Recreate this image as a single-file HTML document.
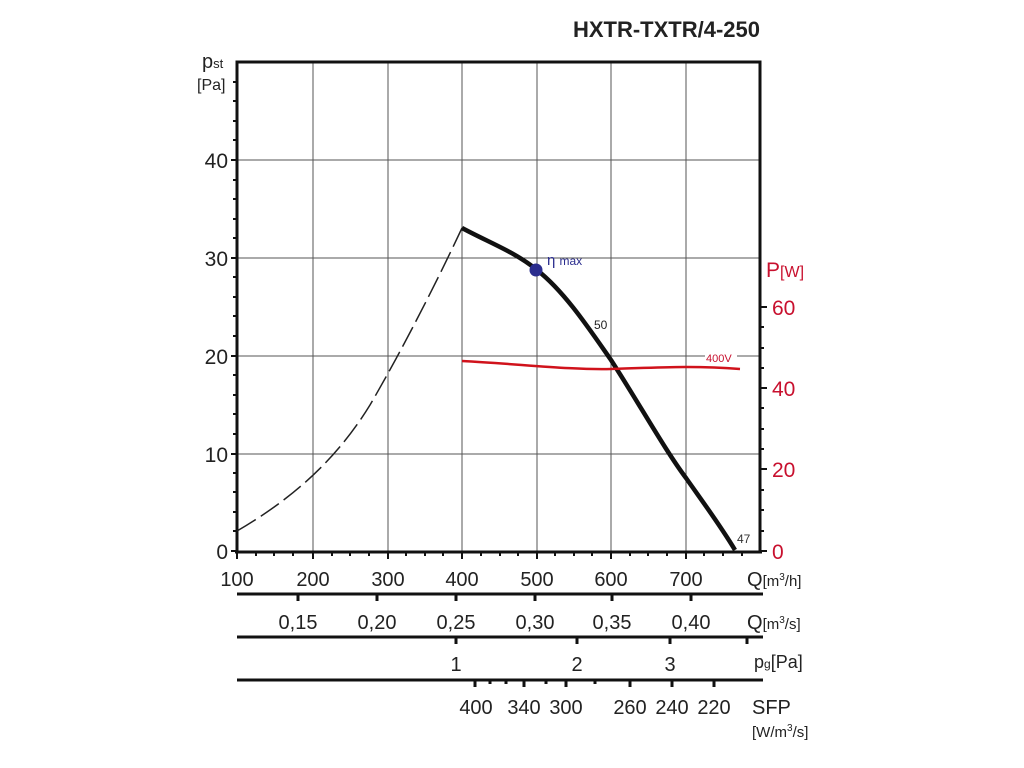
<!DOCTYPE html>
<html><head><meta charset="utf-8"><style>body{margin:0;background:#fff}svg{display:block}</style></head>
<body>
<svg width="1024" height="768" viewBox="0 0 1024 768" xmlns="http://www.w3.org/2000/svg" font-family="Liberation Sans, sans-serif">
<text x="760" y="37" text-anchor="end" font-size="22" font-weight="bold" fill="#222">HXTR-TXTR/4-250</text>
<!-- grid -->
<g stroke="#555" stroke-width="1">
<line x1="313" y1="62" x2="313" y2="551"/><line x1="388" y1="62" x2="388" y2="551"/>
<line x1="462" y1="62" x2="462" y2="551"/><line x1="537" y1="62" x2="537" y2="551"/>
<line x1="611" y1="62" x2="611" y2="551"/><line x1="686" y1="62" x2="686" y2="551"/>
<line x1="237" y1="160" x2="760" y2="160"/><line x1="237" y1="258" x2="760" y2="258"/>
<line x1="237" y1="356" x2="760" y2="356"/><line x1="237" y1="454" x2="760" y2="454"/>
</g>
<!-- frame -->
<g stroke="#111" stroke-width="3" fill="none">
<polyline points="237,551 237,62 760,62 760,552"/>
<line x1="235" y1="552" x2="762" y2="552"/>
</g>
<!-- left ticks -->
<g stroke="#111" stroke-width="2">
<line x1="231" y1="551" x2="237" y2="551"/><line x1="233" y1="531" x2="237" y2="531"/><line x1="233" y1="512" x2="237" y2="512"/><line x1="233" y1="492" x2="237" y2="492"/><line x1="233" y1="473" x2="237" y2="473"/>
<line x1="231" y1="454" x2="237" y2="454"/><line x1="233" y1="434" x2="237" y2="434"/><line x1="233" y1="414" x2="237" y2="414"/><line x1="233" y1="395" x2="237" y2="395"/><line x1="233" y1="375" x2="237" y2="375"/>
<line x1="231" y1="356" x2="237" y2="356"/><line x1="233" y1="336" x2="237" y2="336"/><line x1="233" y1="316" x2="237" y2="316"/><line x1="233" y1="297" x2="237" y2="297"/><line x1="233" y1="277" x2="237" y2="277"/>
<line x1="231" y1="258" x2="237" y2="258"/><line x1="233" y1="238" x2="237" y2="238"/><line x1="233" y1="219" x2="237" y2="219"/><line x1="233" y1="199" x2="237" y2="199"/><line x1="233" y1="180" x2="237" y2="180"/>
<line x1="231" y1="160" x2="237" y2="160"/><line x1="233" y1="140" x2="237" y2="140"/><line x1="233" y1="121" x2="237" y2="121"/><line x1="233" y1="101" x2="237" y2="101"/><line x1="233" y1="82" x2="237" y2="82"/>
</g>
<!-- bottom ticks -->
<g stroke="#111" stroke-width="2">
<line x1="237" y1="552" x2="237" y2="559"/><line x1="256" y1="552" x2="256" y2="556"/><line x1="274" y1="552" x2="274" y2="556"/><line x1="293" y1="552" x2="293" y2="556"/>
<line x1="313" y1="552" x2="313" y2="559"/><line x1="332" y1="552" x2="332" y2="556"/><line x1="350" y1="552" x2="350" y2="556"/><line x1="369" y1="552" x2="369" y2="556"/>
<line x1="388" y1="552" x2="388" y2="559"/><line x1="406" y1="552" x2="406" y2="556"/><line x1="425" y1="552" x2="425" y2="556"/><line x1="443" y1="552" x2="443" y2="556"/>
<line x1="462" y1="552" x2="462" y2="559"/><line x1="481" y1="552" x2="481" y2="556"/><line x1="500" y1="552" x2="500" y2="556"/><line x1="518" y1="552" x2="518" y2="556"/>
<line x1="537" y1="552" x2="537" y2="559"/><line x1="555" y1="552" x2="555" y2="556"/><line x1="574" y1="552" x2="574" y2="556"/><line x1="592" y1="552" x2="592" y2="556"/>
<line x1="611" y1="552" x2="611" y2="559"/><line x1="630" y1="552" x2="630" y2="556"/><line x1="648" y1="552" x2="648" y2="556"/><line x1="667" y1="552" x2="667" y2="556"/>
<line x1="686" y1="552" x2="686" y2="559"/><line x1="704" y1="552" x2="704" y2="556"/><line x1="723" y1="552" x2="723" y2="556"/><line x1="742" y1="552" x2="742" y2="556"/>
</g>
<!-- right red axis ticks -->
<g stroke="#111" stroke-width="2">
<line x1="760" y1="551" x2="767" y2="551"/><line x1="760" y1="531" x2="764" y2="531"/><line x1="760" y1="510" x2="764" y2="510"/><line x1="760" y1="490" x2="764" y2="490"/>
<line x1="760" y1="469" x2="767" y2="469"/><line x1="760" y1="449" x2="764" y2="449"/><line x1="760" y1="429" x2="764" y2="429"/><line x1="760" y1="408" x2="764" y2="408"/>
<line x1="760" y1="388" x2="767" y2="388"/><line x1="760" y1="368" x2="764" y2="368"/><line x1="760" y1="348" x2="764" y2="348"/><line x1="760" y1="327" x2="764" y2="327"/>
<line x1="760" y1="307" x2="767" y2="307"/>
</g>
<!-- left labels -->
<g font-size="21" fill="#222" text-anchor="end">
<text x="228" y="559">0</text><text x="228" y="462">10</text><text x="228" y="364">20</text><text x="228" y="266">30</text><text x="228" y="168">40</text>
</g>
<text x="202" y="68" font-size="20" fill="#222">p<tspan font-size="13">st</tspan></text>
<text x="197" y="90" font-size="16" fill="#222">[Pa]</text>
<!-- right labels -->
<g font-size="21" fill="#c8102e">
<text x="772" y="559">0</text><text x="772" y="477">20</text><text x="772" y="396">40</text><text x="772" y="315">60</text>
<text x="766" y="277">P<tspan font-size="16">[W]</tspan></text>
</g>
<!-- Q m3/h -->
<g font-size="20" fill="#222" text-anchor="middle">
<text x="237" y="586">100</text><text x="313" y="586">200</text><text x="388" y="586">300</text><text x="462" y="586">400</text><text x="537" y="586">500</text><text x="611" y="586">600</text><text x="686" y="586">700</text>
</g>
<text x="747" y="586" font-size="20" fill="#222">Q<tspan font-size="15">[m<tspan font-size="10" dy="-6">3</tspan><tspan dy="6">/h]</tspan></tspan></text>
<line x1="237" y1="594" x2="763" y2="594" stroke="#111" stroke-width="3"/>
<g stroke="#111" stroke-width="3">
<line x1="298" y1="594" x2="298" y2="601"/><line x1="377" y1="594" x2="377" y2="601"/><line x1="456" y1="594" x2="456" y2="601"/><line x1="535" y1="594" x2="535" y2="601"/><line x1="612" y1="594" x2="612" y2="601"/><line x1="691" y1="594" x2="691" y2="601"/>
</g>
<g font-size="20" fill="#222" text-anchor="middle">
<text x="298" y="629">0,15</text><text x="377" y="629">0,20</text><text x="456" y="629">0,25</text><text x="535" y="629">0,30</text><text x="612" y="629">0,35</text><text x="691" y="629">0,40</text>
</g>
<text x="747" y="629" font-size="20" fill="#222">Q<tspan font-size="15">[m<tspan font-size="10" dy="-6">3</tspan><tspan dy="6">/s]</tspan></tspan></text>
<line x1="237" y1="637" x2="763" y2="637" stroke="#111" stroke-width="3"/>
<g stroke="#111" stroke-width="3">
<line x1="456" y1="637" x2="456" y2="644"/><line x1="577" y1="637" x2="577" y2="644"/><line x1="670" y1="637" x2="670" y2="644"/><line x1="747" y1="637" x2="747" y2="644"/>
</g>
<g font-size="20" fill="#222" text-anchor="middle">
<text x="456" y="671">1</text><text x="577" y="671">2</text><text x="670" y="671">3</text>
</g>
<text x="754" y="668" font-size="18" fill="#222">p<tspan font-size="12">g</tspan>[Pa]</text>
<line x1="237" y1="680" x2="763" y2="680" stroke="#111" stroke-width="3"/>
<g stroke="#111" stroke-width="3">
<line x1="475" y1="680" x2="475" y2="687"/><line x1="490" y1="680" x2="490" y2="684"/><line x1="506" y1="680" x2="506" y2="684"/><line x1="524" y1="680" x2="524" y2="687"/><line x1="546" y1="680" x2="546" y2="684"/><line x1="566" y1="680" x2="566" y2="687"/><line x1="595" y1="680" x2="595" y2="684"/><line x1="630" y1="680" x2="630" y2="687"/><line x1="672" y1="680" x2="672" y2="687"/><line x1="714" y1="680" x2="714" y2="687"/>
</g>
<g font-size="20" fill="#222" text-anchor="middle">
<text x="476" y="714">400</text><text x="524" y="714">340</text><text x="566" y="714">300</text><text x="630" y="714">260</text><text x="672" y="714">240</text><text x="714" y="714">220</text>
</g>
<text x="752" y="714" font-size="20" fill="#222">SFP</text>
<text x="752" y="737" font-size="15" fill="#222">[W/m<tspan font-size="10" dy="-6">3</tspan><tspan dy="6">/s]</tspan></text>
<!-- curves -->
<path d="M237,531 C290,500 335,462 370,405 C405,345 440,275 462,228" fill="none" stroke="#222" stroke-width="1.5" stroke-dasharray="22,6"/>
<path d="M462,228 C490,243 515,252 537,270 C565,292 590,330 611,360 C640,405 665,450 686,478 C705,505 720,525 735,550" fill="none" stroke="#111" stroke-width="4.5"/>
<path d="M462,361 C520,364 570,370 611,369 C650,368 690,365 740,369" fill="none" stroke="#d0121b" stroke-width="2.5"/>
<circle cx="536" cy="270" r="6.5" fill="#2b2d8e"/>
<text x="547" y="265" font-size="15" fill="#2b2d8e">η <tspan font-size="12">max</tspan></text>
<text x="594" y="329" font-size="12" fill="#222">50</text>
<rect x="705" y="352" width="32" height="11" fill="#fff"/>
<text x="706" y="362" font-size="11" fill="#c8102e">400V</text>
<text x="737" y="543" font-size="12" fill="#333">47</text>
</svg>
</body></html>
